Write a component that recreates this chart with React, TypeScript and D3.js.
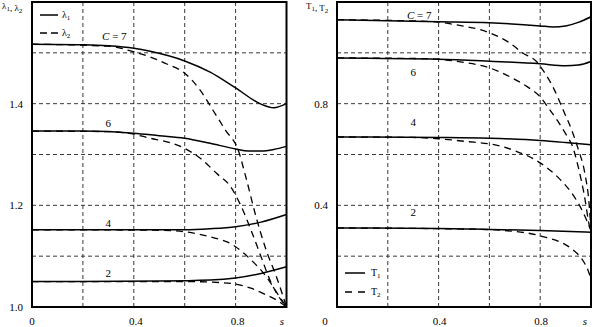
import React from "react";
import * as d3 from "d3";

type P = [number, number];

// Left panel: lambda1 (solid) and lambda2 (dashed) vs s
const lambda1C7: P[] = [[0,1.517],[0.2,1.516],[0.3,1.514],[0.4,1.509],[0.464,1.503],[0.6,1.484],[0.7,1.462],[0.8,1.431],[0.9,1.399],[0.95,1.392],[1.0,1.40]];
const lambda2C7: P[] = [[0,1.517],[0.3,1.513],[0.4,1.502],[0.464,1.492],[0.53,1.478],[0.6,1.46],[0.66,1.427],[0.71,1.388],[0.76,1.348],[0.81,1.309],[0.84,1.256],[0.88,1.178],[0.92,1.112],[0.96,1.06],[1.0,1.0]];
const lambda1C6: P[] = [[0,1.346],[0.2,1.346],[0.4,1.342],[0.5,1.337],[0.6,1.332],[0.7,1.322],[0.8,1.311],[0.85,1.307],[0.9,1.307],[0.95,1.31],[1.0,1.316]];
const lambda2C6: P[] = [[0,1.346],[0.3,1.345],[0.4,1.34],[0.464,1.332],[0.53,1.325],[0.6,1.312],[0.67,1.289],[0.725,1.263],[0.78,1.237],[0.82,1.2],[0.86,1.152],[0.9,1.099],[0.935,1.053],[0.97,1.02],[1.0,1.0]];
const lambda1C4: P[] = [[0,1.152],[0.6,1.152],[0.7,1.154],[0.8,1.158],[0.9,1.167],[1.0,1.182]];
const lambda2C4: P[] = [[0,1.152],[0.5,1.151],[0.6,1.148],[0.7,1.138],[0.79,1.122],[0.86,1.093],[0.92,1.06],[0.96,1.03],[1.0,1.0]];
const lambda1C2: P[] = [[0,1.05],[0.5,1.051],[0.7,1.053],[0.8,1.057],[0.9,1.066],[1.0,1.079]];
const lambda2C2: P[] = [[0,1.05],[0.6,1.05],[0.7,1.049],[0.8,1.045],[0.86,1.037],[0.92,1.024],[0.96,1.014],[1.0,1.0]];

// Right panel: T1 (solid) and T2 (dashed) vs s
const t1C7: P[] = [[0,1.13],[0.4,1.122],[0.6,1.118],[0.8,1.106],[0.85,1.102],[0.9,1.106],[0.95,1.12],[1.0,1.142]];
const t2C7: P[] = [[0,1.13],[0.35,1.124],[0.4,1.121],[0.47,1.11],[0.6,1.079],[0.68,1.039],[0.73,1.0],[0.79,0.961],[0.81,0.933],[0.85,0.866],[0.89,0.776],[0.93,0.68],[0.95,0.62],[0.975,0.53],[0.993,0.40],[1.0,0.30]];
const t1C6: P[] = [[0,0.98],[0.4,0.975],[0.6,0.967],[0.8,0.957],[0.9,0.949],[0.95,0.952],[1.0,0.966]];
const t2C6: P[] = [[0,0.98],[0.35,0.977],[0.4,0.975],[0.48,0.965],[0.6,0.941],[0.68,0.906],[0.75,0.866],[0.8,0.827],[0.83,0.787],[0.87,0.73],[0.91,0.665],[0.925,0.638],[0.95,0.55],[0.972,0.449],[0.996,0.311],[1.0,0.30]];
const t1C4: P[] = [[0,0.669],[0.4,0.667],[0.6,0.664],[0.8,0.655],[0.9,0.647],[1.0,0.638]];
const t2C4: P[] = [[0,0.669],[0.3,0.667],[0.4,0.662],[0.5,0.652],[0.64,0.634],[0.7,0.615],[0.8,0.567],[0.88,0.5],[0.93,0.44],[0.97,0.37],[1.0,0.30]];
const t1C2: P[] = [[0,0.311],[0.4,0.309],[0.6,0.305],[0.8,0.301],[1.0,0.294]];
const t2C2: P[] = [[0,0.311],[0.55,0.306],[0.67,0.30],[0.8,0.28],[0.93,0.224],[0.97,0.18],[0.99,0.14],[1.0,0.11]];

const xTicks = [0, 0.4, 0.8];
const xGrid = [0.2, 0.4, 0.6, 0.8];
const leftYTicks = [1.0, 1.2, 1.4];
const leftYGrid = [1.1, 1.2, 1.3, 1.4, 1.5];
const rightYTicks = [0.4, 0.8];
const rightYGrid = [0.2, 0.4, 0.6, 0.8, 1.0];
const cLabels = ["C = 7", "6", "4", "2"];
const leftLabelVals = [1.533, 1.362, 1.165, 1.067];
const rightLabelVals = [1.149, 0.924, 0.728, 0.374];

const FONT = "Liberation Serif, DejaVu Serif, Times New Roman, serif";

const sx1 = d3.scaleLinear().domain([0, 1]).range([32, 286.5]);
const sy1 = d3.scaleLinear().domain([1.0, 1.6]).range([307, 2]);
const sx2 = d3.scaleLinear().domain([0, 1]).range([337, 591]);
const sy2 = d3.scaleLinear().domain([0, 1.2]).range([307, 2]);

function Sub({ base, sub }: { base: string; sub: string }) {
  return (
    <>
      <tspan>{base}</tspan>
      <tspan dy={2} fontSize={7}>{sub}</tspan>
      <tspan dy={-2}></tspan>
    </>
  );
}

function Panel({ sx, sy, yGrid, yTicks, solids, dashes, labelVals, labelX, tickFmt }: any) {
  const lg = d3.line<P>().x((d) => sx(d[0])).y((d) => sy(d[1])).curve(d3.curveMonotoneX);
  const [x0, x1] = sx.range();
  const [y0, y1] = sy.range();
  return (
    <g>
      {xGrid.map((g: number) => (
        <line key={"vx" + g} x1={sx(g)} x2={sx(g)} y1={y0} y2={y1} stroke="#222" strokeWidth={0.9} strokeDasharray="4,3" />
      ))}
      {yGrid.map((g: number) => (
        <line key={"hy" + g} x1={x0} x2={x1} y1={sy(g)} y2={sy(g)} stroke="#222" strokeWidth={0.9} strokeDasharray="4,3" />
      ))}
      {dashes.map((d: P[], i: number) => (
        <path key={"d" + i} d={lg(d) || ""} fill="none" stroke="#000" strokeWidth={1.3} strokeDasharray="7,5" />
      ))}
      {solids.map((d: P[], i: number) => (
        <path key={"s" + i} d={lg(d) || ""} fill="none" stroke="#000" strokeWidth={1.5} />
      ))}
      <rect x={x0} y={y1} width={x1 - x0} height={y0 - y1} fill="none" stroke="#000" strokeWidth={2} />
      {yTicks.map((t: number) => (
        <text key={"yt" + t} x={x0 - 9} y={sy(t)} textAnchor="end" dominantBaseline="central" fontSize={11} fontFamily={FONT}>
          {tickFmt(t)}
        </text>
      ))}
      {cLabels.map((l, i) => (
        <text key={"cl" + i} x={i === 0 ? sx(labelX) + 6 : sx(labelX)} y={sy(labelVals[i])} textAnchor="middle" dominantBaseline="central" fontSize={11} fontFamily={FONT}>
          {i === 0 ? (<><tspan fontStyle="italic">C</tspan><tspan> = 7</tspan></>) : l}
        </text>
      ))}
    </g>
  );
}

export default function App() {
  return (
    <svg width={593} height={327} style={{ position: "absolute", left: 0, top: 0, background: "#fff" }} fontFamily={FONT}>
      <rect x={0} y={0} width={593} height={327} fill="#fff" />
      <Panel sx={sx1} sy={sy1} yGrid={leftYGrid} yTicks={leftYTicks}
        solids={[lambda1C7, lambda1C6, lambda1C4, lambda1C2]}
        dashes={[lambda2C7, lambda2C6, lambda2C4, lambda2C2]}
        labelVals={leftLabelVals} labelX={0.3} tickFmt={(t: number) => t.toFixed(1)} />
      <Panel sx={sx2} sy={sy2} yGrid={rightYGrid} yTicks={rightYTicks}
        solids={[t1C7, t1C6, t1C4, t1C2]}
        dashes={[t2C7, t2C6, t2C4, t2C2]}
        labelVals={rightLabelVals} labelX={0.3} tickFmt={(t: number) => t.toFixed(1)} />

      {xTicks.map((t) => (
        <text key={"lx" + t} x={sx1(t) + (t === 0 ? 0 : 2)} y={321} textAnchor="middle" dominantBaseline="central" fontSize={11} fontFamily={FONT}>{t === 0 ? "0" : t.toFixed(1)}</text>
      ))}
      <text x={282} y={321} textAnchor="middle" dominantBaseline="central" fontSize={11} fontStyle="italic" fontFamily={FONT}>s</text>
      {xTicks.map((t) => (
        <text key={"rx" + t} x={t === 0 ? sx2(0) - 12 : sx2(t) + 1} y={321} textAnchor="middle" dominantBaseline="central" fontSize={11} fontFamily={FONT}>{t === 0 ? "0" : t.toFixed(1)}</text>
      ))}
      <text x={585} y={321} textAnchor="middle" dominantBaseline="central" fontSize={11} fontStyle="italic" fontFamily={FONT}>s</text>

      <text x={2} y={9} fontSize={9} fontFamily={FONT}>
        <Sub base="λ" sub="1" /><tspan>, </tspan><Sub base="λ" sub="2" />
      </text>
      <text x={306} y={9} fontSize={9} fontFamily={FONT}>
        <Sub base="T" sub="1" /><tspan>, </tspan><Sub base="T" sub="2" />
      </text>

      <line x1={40} x2={58} y1={15} y2={15} stroke="#000" strokeWidth={1.5} />
      <text x={62} y={18} fontSize={10} fontFamily={FONT}><Sub base="λ" sub="1" /></text>
      <line x1={40} x2={58} y1={33} y2={33} stroke="#000" strokeWidth={1.3} strokeDasharray="7,4" />
      <text x={62} y={36} fontSize={10} fontFamily={FONT}><Sub base="λ" sub="2" /></text>

      <line x1={345} x2={365} y1={273} y2={273} stroke="#000" strokeWidth={1.5} />
      <text x={371} y={276} fontSize={10} fontFamily={FONT}><Sub base="T" sub="1" /></text>
      <line x1={345} x2={365} y1={292} y2={292} stroke="#000" strokeWidth={1.3} strokeDasharray="7,6" />
      <text x={371} y={295} fontSize={10} fontFamily={FONT}><Sub base="T" sub="2" /></text>
    </svg>
  );
}
